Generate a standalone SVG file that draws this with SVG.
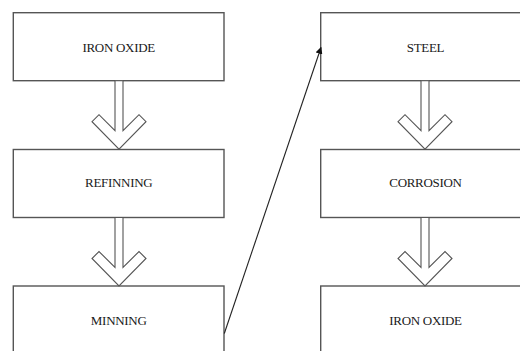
<svg xmlns="http://www.w3.org/2000/svg" width="520" height="351" viewBox="0 0 520 351">
  <defs>
    <style>
      .box { fill: #ffffff; stroke: #555555; stroke-width: 1.4; }
      .label { font-family: "Liberation Serif", "Times New Roman", serif; font-size: 13px; fill: #1a1a1a; text-anchor: middle; letter-spacing: -0.3px; }
      .flow { fill: #ffffff; stroke: #555555; stroke-width: 1.1; stroke-linejoin: miter; }
      .link { fill: none; stroke: #222222; stroke-width: 1.1; }
    </style>
    <marker id="tip" viewBox="0 0 10 10" refX="9" refY="5" markerWidth="7" markerHeight="7" markerUnits="userSpaceOnUse" orient="auto">
      <path d="M0,0 L10,5 L0,10 z" fill="#111111"/>
    </marker>
    <!-- hollow block arrow, shaft centred on x=0, starting at y=0 -->
    <polygon id="blockArrow" points="-4,0 4,0 4,50 20,34 27,41 0,68.5 -27,41 -20,34 -4,50"/>
  </defs>

  <rect width="520" height="351" fill="#ffffff"/>

  <!-- left column -->
  <g id="iron-oxide-start">
    <rect class="box" x="13.3" y="12.7" width="210.7" height="68"/>
    <text class="label" x="118.7" y="51.5">IRON OXIDE</text>
  </g>
  <g id="refinning">
    <rect class="box" x="13.3" y="149.5" width="210.7" height="68"/>
    <text class="label" x="118.7" y="187">REFINNING</text>
  </g>
  <g id="minning">
    <rect class="box" x="13.3" y="286" width="210.7" height="68"/>
    <text class="label" x="118.7" y="325">MINNING</text>
  </g>

  <!-- right column -->
  <g id="steel">
    <rect class="box" x="320.7" y="12.7" width="210.7" height="68"/>
    <text class="label" x="425.5" y="51.5">STEEL</text>
  </g>
  <g id="corrosion">
    <rect class="box" x="320.7" y="149.5" width="210.7" height="68"/>
    <text class="label" x="425.5" y="187">CORROSION</text>
  </g>
  <g id="iron-oxide-end">
    <rect class="box" x="320.7" y="286" width="210.7" height="68"/>
    <text class="label" x="425.5" y="325">IRON OXIDE</text>
  </g>

  <!-- connectors -->
  <g id="connectors">
    <use href="#blockArrow" class="flow" x="119" y="80.7"/>
    <use href="#blockArrow" class="flow" x="119" y="217.5"/>
    <use href="#blockArrow" class="flow" x="425" y="80.7"/>
    <use href="#blockArrow" class="flow" x="425" y="217.5"/>
    <line class="link" x1="224.3" y1="333.5" x2="321" y2="47.5" marker-end="url(#tip)"/>
  </g>
</svg>
